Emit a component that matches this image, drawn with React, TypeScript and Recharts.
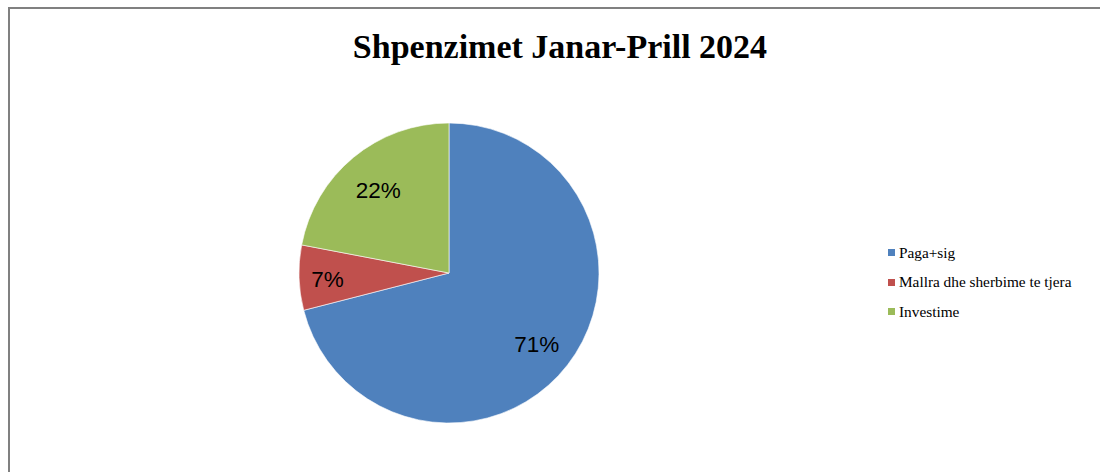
import { PieChart, Pie, Cell, Legend } from "recharts";

const categories = ["Paga+sig", "Mallra dhe sherbime te tjera", "Investime"];
const shares = [71, 7, 22];
const COLORS = ["#4F81BD", "#C0504D", "#9BBB59"];
const labelRadius = [0.74, 0.81, 0.74];

const data = categories.map((name, i) => ({ name, value: shares[i] }));

const RADIAN = Math.PI / 180;

function renderLabel(props: any) {
  const { cx, cy, midAngle, outerRadius, index, percent } = props;
  const r = outerRadius * labelRadius[index];
  const x = cx + r * Math.cos(-midAngle * RADIAN);
  const y = cy + r * Math.sin(-midAngle * RADIAN) + 3;
  return (
    <text
      x={x}
      y={y}
      fill="#000"
      textAnchor="middle"
      dominantBaseline="central"
      fontFamily="'Liberation Sans', Arial, sans-serif"
      fontSize={22.5}
    >
      {`${Math.round(percent * 100)}%`}
    </text>
  );
}

function LegendContent({ payload }: any) {
  // keep the legend in data order
  const items = [...(payload || [])].sort(
    (a: any, b: any) => categories.indexOf(a.value) - categories.indexOf(b.value)
  );
  return (
    <div style={{ display: "flex", flexDirection: "column", gap: 12 }}>
      {items.map((p: any) => (
        <div
          key={p.value}
          style={{ display: "flex", alignItems: "center", height: 17.5 }}
        >
          <span
            style={{
              display: "inline-block",
              width: 7,
              height: 7,
              background: p.color,
              marginRight: 4,
            }}
          />
          <span
            style={{
              fontFamily: "'Liberation Serif', 'DejaVu Serif', serif",
              fontSize: 15.3,
              color: "#000",
            }}
          >
            {p.value}
          </span>
        </div>
      ))}
    </div>
  );
}

export default function App() {
  return (
    <div
      style={{
        position: "absolute",
        left: 0,
        top: 0,
        width: 1100,
        height: 472,
        background: "#fff",
        overflow: "hidden",
      }}
    >
      <div
        style={{
          position: "absolute",
          left: 8,
          top: 7,
          width: 1200,
          height: 600,
          borderLeft: "2px solid #808080",
          borderTop: "2px solid #808080",
        }}
      />
      <div
        style={{
          position: "absolute",
          left: 0,
          top: 27,
          width: 1120,
          textAlign: "center",
          fontFamily: "'Liberation Serif', 'DejaVu Serif', serif",
          fontWeight: "bold",
          fontSize: 34,
          lineHeight: "40px",
          color: "#000",
        }}
      >
        Shpenzimet Janar-Prill 2024
      </div>
      <div style={{ position: "absolute", left: 0, top: 0 }}>
        <PieChart width={1100} height={472}>
          <Pie
            data={data}
            dataKey="value"
            nameKey="name"
            cx={444}
            cy={268}
            outerRadius={150}
            startAngle={90}
            endAngle={-270}
            stroke="#fff"
            strokeWidth={0.6}
            label={renderLabel}
            labelLine={false}
            isAnimationActive={false}
          >
            {data.map((entry, i) => (
              <Cell key={entry.name} fill={COLORS[i]} />
            ))}
          </Pie>
          <Legend
            layout="vertical"
            content={<LegendContent />}
            wrapperStyle={{ position: "absolute", left: 888, top: 244, width: 212 }}
          />
        </PieChart>
      </div>
    </div>
  );
}
